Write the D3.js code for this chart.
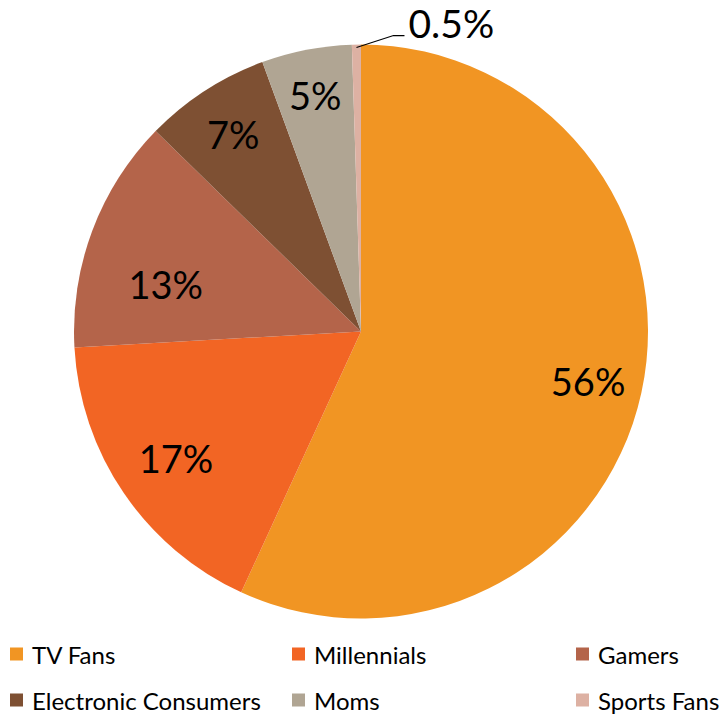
<!DOCTYPE html>
<html>
<head>
<meta charset="utf-8">
<script src="https://cdn.jsdelivr.net/npm/d3@7"></script>
<style>
  body { margin: 0; background: #fff; }
  svg text { font-family: Lato, "Open Sans", sans-serif; fill: #000; }
</style>
</head>
<body>
<svg width="722" height="716"></svg>
<script>
"use strict"

const categories = ["TV Fans", "Millennials", "Gamers", "Electronic Consumers", "Moms", "Sports Fans"]
const values = [56, 17, 13, 7, 5, 0.5]
const labels = ["56%", "17%", "13%", "7%", "5%", "0.5%"]
const colors = ["#F19523", "#F26524", "#B4644A", "#7E5033", "#B0A593", "#DDB1A3"]

const svg = d3.select("svg")
const cx = 361, cy = 331.5, R = 287

const pie = d3.pie().sort(null).value(d => d)
const arcs = pie(values)
const arc = d3.arc().innerRadius(0).outerRadius(R)

const g = svg.append("g").attr("transform", `translate(${cx},${cy})`)

g.selectAll("path.slice")
    .data(arcs)
    .join("path")
    .attr("class", "slice")
    .attr("d", arc)
    .attr("fill", (d, i) => colors[i])

// label radius per slice, roughly what excel's best fit did
const labelR = [0.81, 0.78, 0.70, 0.82, 0.84]
const labelShift = [0, 0, -0.12, 0, 0] // radians

g.selectAll("text.lbl")
    .data(arcs.slice(0, 5))
    .join("text")
    .attr("class", "lbl")
    .attr("x", (d, i) => {
        let a = (d.startAngle + d.endAngle) / 2 + labelShift[i]
        return Math.sin(a) * R * labelR[i]
    })
    .attr("y", (d, i) => {
        let a = (d.startAngle + d.endAngle) / 2 + labelShift[i]
        return -Math.cos(a) * R * labelR[i]
    })
    .attr("text-anchor", "middle")
    .attr("dominant-baseline", "central")
    .attr("font-size", 38)
    .text((d, i) => labels[i])

// small slice gets a leader line
const small = arcs[5]
const ma = (small.startAngle + small.endAngle) / 2
const p0 = [Math.sin(ma) * (R - 3), -Math.cos(ma) * (R - 3)]
const p1 = [p0[0] + 37, p0[1] - 12]
const p2 = [p1[0] + 11, p1[1]]
g.append("polyline")
    .attr("points", [p0, p1, p2].map(p => p.join(",")).join(" "))
    .attr("fill", "none")
    .attr("stroke", "#000")
    .attr("stroke-width", 1.2)
g.append("text")
    .attr("x", p2[0] + 4)
    .attr("y", p2[1] - 13)
    .attr("dominant-baseline", "central")
    .attr("font-size", 39)
    .text(labels[5])

// legend, 3 columns x 2 rows
const colX = d3.scaleOrdinal().domain([0, 1, 2]).range([10, 292, 576])
const rowY = d3.scaleOrdinal().domain([0, 1]).range([654, 700])

const leg = svg.selectAll("g.leg")
    .data(categories)
    .join("g")
    .attr("class", "leg")
    .attr("transform", (d, i) => `translate(${colX(i % 3)},${rowY(Math.floor(i / 3))})`)
leg.append("rect")
    .attr("x", 0).attr("y", -6.5)
    .attr("width", 13).attr("height", 13)
    .attr("fill", (d, i) => colors[i])
leg.append("text")
    .attr("x", 22)
    .attr("y", 0)
    .attr("dominant-baseline", "central")
    .attr("font-size", 24)
    .text(d => d)
</script>
</body>
</html>
